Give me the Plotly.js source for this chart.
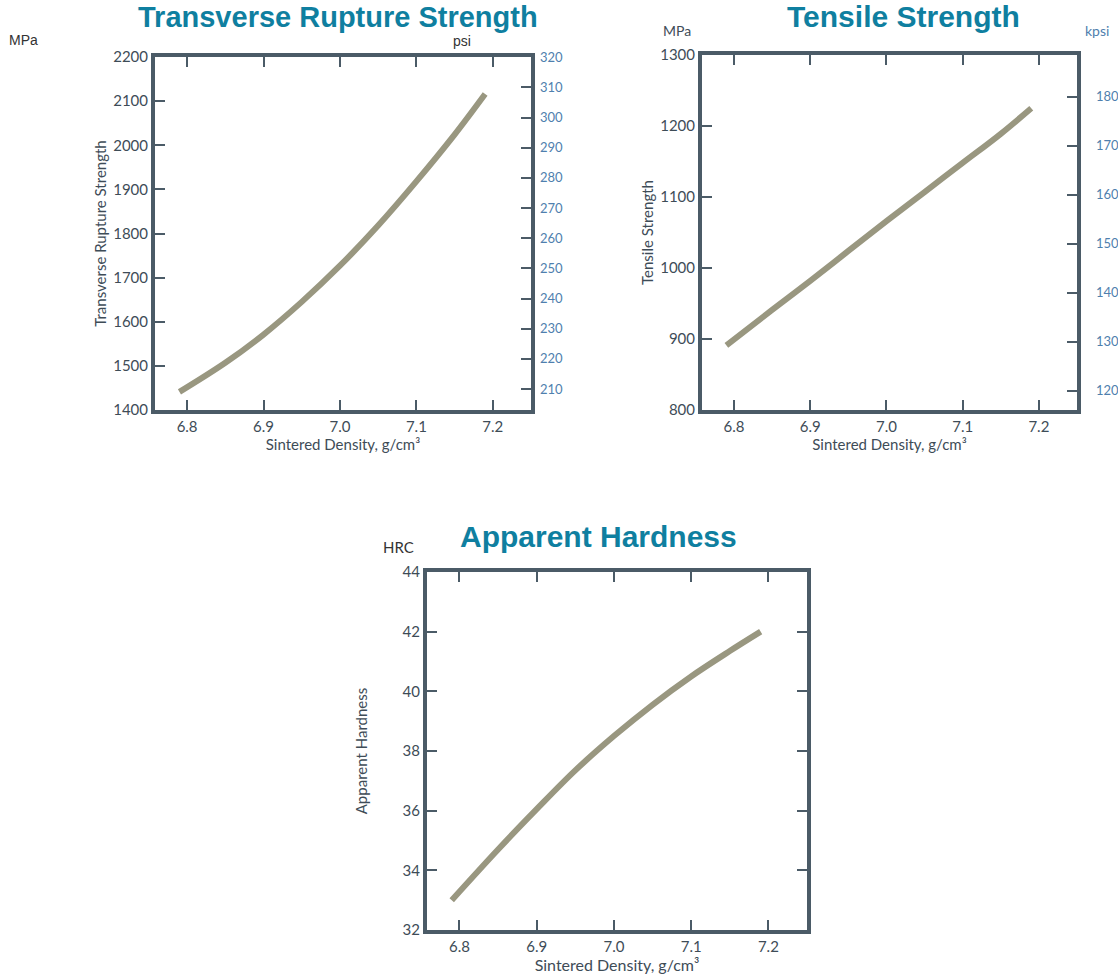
<!DOCTYPE html>
<html>
<head>
<meta charset="utf-8">
<script src="https://cdn.plot.ly/plotly-3.0.1.min.js"></script>
<style>html,body{margin:0;padding:0;background:#fff;}#chart{width:1118px;height:978px;}</style>
</head>
<body>
<div id="chart"></div>
<script>
// Sintered density (g/cm³)
const densityTRS = [6.79, 6.85, 6.90, 6.95, 7.00, 7.05, 7.10, 7.15, 7.19];
const trsMPa     = [1441, 1507, 1571, 1645, 1727, 1818, 1918, 2024, 2116];

const densityTS  = [6.79, 6.85, 6.90, 6.95, 7.00, 7.05, 7.10, 7.15, 7.19];
const tsMPa      = [891, 941, 982, 1024, 1066, 1107, 1148, 1189, 1225];

const densityHRC = [6.79, 6.85, 6.90, 6.95, 7.00, 7.05, 7.10, 7.15, 7.19];
const hardnessHRC= [33.0, 34.7, 36.05, 37.35, 38.5, 39.55, 40.5, 41.35, 42.0];

const densityTicks = [6.8, 6.9, 7.0, 7.1, 7.2];
const densityTickText = ["6.8", "6.9", "7.0", "7.1", "7.2"];
const trsTicks = [1400, 1500, 1600, 1700, 1800, 1900, 2000, 2100, 2200];
const psiTicks = [210, 220, 230, 240, 250, 260, 270, 280, 290, 300, 310, 320];
const tsTicks = [800, 900, 1000, 1100, 1200, 1300];
const kpsiTicks = [120, 130, 140, 150, 160, 170, 180];
const hrcTicks = [32, 34, 36, 38, 40, 42, 44];

const MPA_PER_KSI = 6.895;
const W = 1118, H = 978;
const frame = '#4b5b67';
const lineCol = '#999780';
const labelCol = '#3e4c57';
const blueCol = '#4f7fae';
const titleCol = '#0f7fa0';
const tickFont = {family: 'Lato, "Open Sans", sans-serif', size: 15, color: labelCol};

function px(x0, x1) { return [x0 / W, x1 / W]; }
function py(top, bottom) { return [1 - bottom / H, 1 - top / H]; }

function xAxis(domain, anchor, titleSize) {
  return {
    domain: domain, anchor: anchor, range: [6.758, 7.25],
    tickvals: densityTicks, ticktext: densityTickText,
    ticks: 'inside', ticklen: 10, tickwidth: 2, tickcolor: frame,
    showline: true, linecolor: frame, linewidth: 4, mirror: 'ticks',
    showgrid: false, zeroline: false, tickfont: tickFont,
    title: {text: 'Sintered Density, g/cm³', font: {family: 'Lato, sans-serif', size: titleSize, color: labelCol}, standoff: 5}
  };
}
function yAxis(domain, anchor, range, ticks, title, mirror, standoff) {
  return {
    domain: domain, anchor: anchor, range: range, tickvals: ticks,
    ticks: 'inside', ticklen: 10, tickwidth: 2, tickcolor: frame,
    showline: true, linecolor: frame, linewidth: 4, mirror: mirror,
    showgrid: false, zeroline: false, tickfont: tickFont,
    title: {text: title, font: {family: 'Lato, sans-serif', size: 15, color: labelCol}, standoff: standoff}
  };
}

const line = {color: lineCol, width: 6, shape: 'spline'};
const traces = [
  {x: densityTRS, y: trsMPa, xaxis: 'x', yaxis: 'y', mode: 'lines', line: line, hoverinfo: 'skip'},
  {x: [], y: [], xaxis: 'x', yaxis: 'y2', mode: 'lines', hoverinfo: 'skip', showlegend: false},
  {x: densityTS, y: tsMPa, xaxis: 'x2', yaxis: 'y3', mode: 'lines', line: line, hoverinfo: 'skip'},
  {x: [], y: [], xaxis: 'x2', yaxis: 'y4', mode: 'lines', hoverinfo: 'skip', showlegend: false},
  {x: densityHRC, y: hardnessHRC, xaxis: 'x3', yaxis: 'y5', mode: 'lines', line: line, hoverinfo: 'skip'}
];

const trsRange = [1400, 2200];
const tsRange = [800, 1300];

function note(text, x, y, size, color, family) {
  return {text: text, x: x / W, y: 1 - y / H, xref: 'paper', yref: 'paper', showarrow: false,
          xanchor: 'center', yanchor: 'middle', font: {family: family, size: size, color: color}};
}
const arial = 'Liberation Sans, Arial, sans-serif';
const lato = 'Lato, sans-serif';

const layout = {
  width: W, height: H, showlegend: false,
  margin: {l: 0, r: 0, t: 0, b: 0},
  paper_bgcolor: '#fff', plot_bgcolor: 'rgba(0,0,0,0)',
  xaxis: xAxis(px(155, 531), 'y', 15),
  yaxis: yAxis(py(57, 410), 'x', trsRange, trsTicks, 'Transverse Rupture Strength', true, 4),
  yaxis2: {
    overlaying: 'y', side: 'right', anchor: 'x',
    range: [trsRange[0] / MPA_PER_KSI, 320.1],
    tickvals: psiTicks, ticks: 'inside', ticklen: 10, tickwidth: 2, tickcolor: frame,
    showline: false, showgrid: false, zeroline: false, ticklabelstandoff: 8,
    tickfont: {family: lato, size: 13, color: blueCol}
  },
  xaxis2: xAxis(px(702, 1077), 'y3', 15),
  yaxis3: yAxis(py(55, 410), 'x2', tsRange, tsTicks, 'Tensile Strength', true, 4),
  yaxis4: {
    overlaying: 'y3', side: 'right', anchor: 'x2',
    range: [tsRange[0] / MPA_PER_KSI, tsRange[1] / MPA_PER_KSI],
    tickvals: kpsiTicks, ticks: 'inside', ticklen: 10, tickwidth: 2, tickcolor: frame,
    showline: false, showgrid: false, zeroline: false, ticklabelstandoff: 18,
    tickfont: {family: lato, size: 13, color: blueCol}
  },
  xaxis3: xAxis(px(427, 807), 'y5', 16),
  yaxis5: yAxis(py(572, 930), 'x3', [32, 44], hrcTicks, 'Apparent Hardness', 'ticks', 32),
  annotations: [
    note('<b>Transverse Rupture Strength</b>', 338, 17, 29, titleCol, arial),
    note('<b>Tensile Strength</b>', 903, 17, 30, titleCol, arial),
    note('<b>Apparent Hardness</b>', 598, 536, 30, titleCol, arial),
    note('MPa', 24, 40, 14, '#333', arial),
    note('psi', 462, 41, 14, '#333', arial),
    note('MPa', 677, 31, 14, labelCol, lato),
    note('kpsi', 1097, 31, 14, blueCol, lato),
    note('HRC', 398, 547, 15, '#333', lato)
  ]
};

Plotly.newPlot('chart', traces, layout, {staticPlot: true, displayModeBar: false});
</script>
</body>
</html>
